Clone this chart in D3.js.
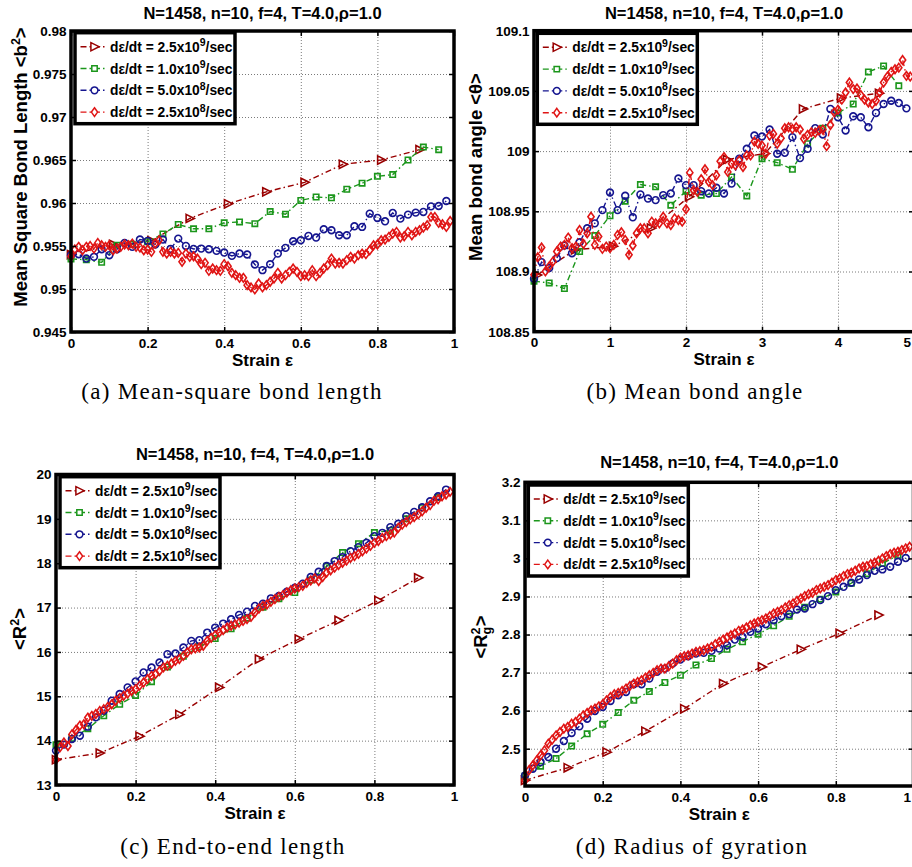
<!DOCTYPE html>
<html><head><meta charset="utf-8">
<script src="https://cdn.jsdelivr.net/npm/d3@7"></script>
<style>
body{margin:0;background:#fff;overflow:hidden}
svg{display:block}
text{font-family:"Liberation Sans",Arial,Helvetica,sans-serif;font-weight:bold;fill:#000}
.cap{font-family:"Liberation Serif","Times New Roman",serif;font-weight:normal}
</style>
</head><body><script>
// ---------------- DATA ----------------
const titleText = "N=1458, n=10, f=4, T=4.0,\u03c1=1.0";
const xLabelText = "Strain \u03b5";
const legendRates = ["2.5", "1.0", "5.0", "2.5"];
const legendExps = ["9", "9", "8", "8"];

// strain samples (panels a, c, d)
const strainTri = [0,0.11,0.21,0.31,0.41,0.51,0.61,0.71,0.81,0.91];
const strain04 = [0,0.04,0.08,0.12,0.16,0.2,0.24,0.28,0.32,0.36,0.4,0.44,0.48,0.52,0.56,0.6,0.64,0.68,0.72,0.76,0.8,0.84,0.88,0.92,0.96];
const strain02 = [0,0.02,0.04,0.06,0.08,0.1,0.12,0.14,0.16,0.18,0.2,0.22,0.24,0.26,0.28,0.3,0.32,0.34,0.36,0.38,0.4,0.42,0.44,0.46,0.48,0.5,0.52,0.54,0.56,0.58,0.6,0.62,0.64,0.66,0.68,0.7,0.72,0.74,0.76,0.78,0.8,0.82,0.84,0.86,0.88,0.9,0.92,0.94,0.96,0.98];
const strain01 = [0,0.01,0.02,0.03,0.04,0.05,0.06,0.07,0.08,0.09,0.1,0.11,0.12,0.13,0.14,0.15,0.16,0.17,0.18,0.19,0.2,0.21,0.22,0.23,0.24,0.25,0.26,0.27,0.28,0.29,0.3,0.31,0.32,0.33,0.34,0.35,0.36,0.37,0.38,0.39,0.4,0.41,0.42,0.43,0.44,0.45,0.46,0.47,0.48,0.49,0.5,0.51,0.52,0.53,0.54,0.55,0.56,0.57,0.58,0.59,0.6,0.61,0.62,0.63,0.64,0.65,0.66,0.67,0.68,0.69,0.7,0.71,0.72,0.73,0.74,0.75,0.76,0.77,0.78,0.79,0.8,0.81,0.82,0.83,0.84,0.85,0.86,0.87,0.88,0.89,0.9,0.91,0.92,0.93,0.94,0.95,0.96,0.97,0.98,0.99];
// strain samples (panel b)
const strainBTri = [0.04,0.54,1.04,1.54,2.04,2.54,3.04,3.54,4.04,4.54];
const strainB2 = [0,0.2,0.4,0.6,0.8,1,1.2,1.4,1.6,1.8,2,2.2,2.4,2.6,2.8,3,3.2,3.4,3.6,3.8,4,4.2,4.4,4.6,4.8];
const strainB1 = [0,0.1,0.2,0.3,0.4,0.5,0.6,0.7,0.8,0.9,1,1.1,1.2,1.3,1.4,1.5,1.6,1.7,1.8,1.9,2,2.1,2.2,2.3,2.4,2.5,2.6,2.7,2.8,2.9,3,3.1,3.2,3.3,3.4,3.5,3.6,3.7,3.8,3.9,4,4.1,4.2,4.3,4.4,4.5,4.6,4.7,4.8,4.9];
const strainB05 = [0,0.05,0.1,0.15,0.2,0.25,0.3,0.35,0.4,0.45,0.5,0.55,0.6,0.65,0.7,0.75,0.8,0.85,0.9,0.95,1,1.05,1.1,1.15,1.2,1.25,1.3,1.35,1.4,1.45,1.5,1.55,1.6,1.65,1.7,1.75,1.8,1.85,1.9,1.95,2,2.05,2.1,2.15,2.2,2.25,2.3,2.35,2.4,2.45,2.5,2.55,2.6,2.65,2.7,2.75,2.8,2.85,2.9,2.95,3,3.05,3.1,3.15,3.2,3.25,3.3,3.35,3.4,3.45,3.5,3.55,3.6,3.65,3.7,3.75,3.8,3.85,3.9,3.95,4,4.05,4.1,4.15,4.2,4.25,4.3,4.35,4.4,4.45,4.5,4.55,4.6,4.65,4.7,4.75,4.8,4.85,4.9,4.95];

// (a) mean-square bond length
const bondA1 = [0.9540,0.9552,0.9556,0.9582,0.9599,0.9613,0.9624,0.9645,0.9650,0.9662];
const bondA2 = [0.9535,0.9534,0.9531,0.9551,0.9552,0.9555,0.9564,0.9575,0.9570,0.9570,0.9577,0.9578,0.9576,0.9590,0.9587,0.9603,0.9607,0.9606,0.9616,0.9623,0.9631,0.9633,0.9650,0.9665,0.9662];
const bondA3 = [0.95393,0.95404,0.95354,0.95374,0.95462,0.95393,0.95462,0.95536,0.95490,0.95575,0.95559,0.95517,0.95575,0.95466,0.95586,0.95501,0.95466,0.95470,0.95462,0.95443,0.95424,0.95385,0.95412,0.95401,0.95285,0.95219,0.95288,0.95412,0.95478,0.95555,0.95567,0.95617,0.95598,0.95695,0.95683,0.95625,0.95625,0.95729,0.95722,0.95876,0.95826,0.95787,0.95884,0.95818,0.95865,0.95888,0.95896,0.95961,0.95965,0.96023];
const bondA4 = [0.95381,0.95459,0.95490,0.95451,0.95490,0.95501,0.95470,0.95536,0.95509,0.95490,
0.95509,0.95451,0.95470,0.95490,0.95517,0.95509,0.95528,0.95490,0.95482,0.95451,
0.95459,0.95432,0.95528,0.95567,0.95432,0.95412,0.95432,0.95412,0.95420,0.95316,
0.95412,0.95374,0.95381,0.95354,0.95289,0.95304,0.95211,0.95238,0.95219,0.95211,
0.95289,0.95265,0.95188,0.95161,0.95130,0.95130,0.95045,0.95018,0.94995,0.95064,
0.95018,0.95045,0.95084,0.95122,0.95188,0.95122,0.95161,0.95200,0.95238,0.95200,
0.95149,0.95161,0.95149,0.95219,0.95149,0.95188,0.95238,0.95277,0.95354,0.95296,
0.95304,0.95296,0.95335,0.95374,0.95354,0.95393,0.95412,0.95405,0.95451,0.95509,
0.95517,0.95567,0.95575,0.95606,0.95644,0.95664,0.95598,0.95613,0.95664,0.95625,
0.95664,0.95683,0.95714,0.95741,0.95838,0.95838,0.95768,0.95753,0.95722,0.95791];

// (b) mean bond angle
const angB1 = [108.897,108.918,108.921,108.936,108.962,108.993,108.998,109.035,109.044,109.048];
const angB2 = [108.892,108.8905,108.8858,108.9166,108.9298,108.9463,108.9584,108.9722,108.9703,108.9551,108.9667,108.9634,108.9648,108.9785,108.9628,108.9937,108.9904,108.9849,109.0061,109.019,109.0316,109.0391,109.0658,109.0707,109.0542];
const angB3 = [108.8940,108.9078,108.9029,108.9111,108.9216,108.9152,108.9243,108.9359,108.9400,108.9510,
108.9656,108.9510,108.9629,108.9450,108.9640,108.9606,108.9593,108.9634,108.9648,108.9772,
108.9717,108.9717,108.9667,108.9648,108.9695,108.9648,108.9730,108.9937,109.0019,109.0129,
109.0121,109.0179,108.9978,108.9986,109.0116,108.9942,109.0019,109.0190,109.0138,109.0350,
109.0281,109.0171,109.0289,109.0281,109.0198,109.0317,109.0391,109.0418,109.0399,109.0355];
const angB4 = [108.8973,108.9119,108.9199,108.9001,108.9042,108.9084,108.9166,108.9207,108.9221,108.9282,
108.9194,108.9207,108.9345,108.9229,108.9318,108.9455,108.9221,108.9290,108.9188,108.9207,
108.9194,108.9221,108.9304,108.9326,108.9262,108.9139,108.9216,108.9318,108.9359,108.9359,
108.9318,108.9414,108.9400,108.9400,108.9455,108.9400,108.9386,108.9441,108.9428,108.9414,
108.9518,108.9821,108.9675,108.9662,108.9766,108.9849,108.9744,108.9717,108.9799,108.9915,
108.9950,108.9827,108.9895,108.9882,108.9923,108.9868,108.9964,108.9964,109.0080,109.0061,
109.0047,108.9978,109.0129,109.0143,109.0061,109.0107,109.0190,109.0198,109.0184,109.0198,
109.0179,109.0102,109.0135,109.0157,109.0151,109.0171,109.0179,109.0041,109.0217,109.0322,
109.0344,109.0427,109.0487,109.0570,109.0515,109.0520,109.0465,109.0427,109.0404,109.0391,
109.0418,109.0487,109.0570,109.0619,109.0658,109.0680,109.0693,109.0757,109.0625,109.0619];

// (c) end-to-end length <R^2>
const ree1 = [13.57,13.72,14.10,14.59,15.20,15.84,16.29,16.71,17.16,17.67];
const ree2 = [13.91,14.05,14.27,14.56,14.82,15.02,15.33,15.66,15.90,16.12,16.30,16.52,16.76,17.01,17.20,17.34,17.62,17.93,18.24,18.44,18.69,18.74,19.00,19.25,19.48];
const ree3 = [13.775,13.910,14.038,14.112,14.315,14.525,14.675,14.900,15.050,15.199,
15.334,15.537,15.649,15.762,15.949,15.964,16.099,16.249,16.264,16.436,
16.549,16.639,16.736,16.834,16.909,17.036,17.088,17.208,17.261,17.358,
17.448,17.538,17.688,17.808,17.936,18.048,18.138,18.273,18.363,18.460,
18.610,18.685,18.813,18.888,19.060,19.157,19.262,19.397,19.510,19.660];
const ree4 = [13.57,13.85,13.96,13.88,14.14,14.24,14.34,14.37,14.52,14.56,
14.60,14.67,14.71,14.76,14.82,14.90,14.96,15.01,15.06,15.12,
15.16,15.24,15.31,15.39,15.46,15.50,15.57,15.65,15.69,15.74,
15.80,15.84,15.91,15.99,16.06,16.08,16.10,16.14,16.25,16.32,
16.38,16.44,16.49,16.55,16.59,16.62,16.66,16.70,16.74,16.79,
16.89,16.98,17.04,17.07,17.13,17.19,17.24,17.28,17.34,17.39,
17.43,17.46,17.49,17.56,17.61,17.66,17.60,17.69,17.79,17.84,
17.90,17.96,18.01,18.06,18.12,18.16,18.21,18.27,18.33,18.39,
18.46,18.50,18.57,18.61,18.65,18.69,18.80,18.87,18.93,18.99,
19.04,19.10,19.17,19.25,19.31,19.41,19.44,19.51,19.55,19.61];

// (d) radius of gyration <Rg^2>
const rg1 = [2.417,2.450,2.491,2.546,2.605,2.671,2.715,2.761,2.803,2.851];
const rg2 = [2.428,2.454,2.474,2.507,2.539,2.564,2.595,2.627,2.650,2.674,2.693,2.720,2.737,2.761,2.781,2.801,2.823,2.848,2.872,2.893,2.912,2.935,2.960,2.987,3.008];
const rg3 = [2.4298,2.4474,2.4649,2.4781,2.5000,2.5202,2.5412,2.5588,2.5789,2.5991,
2.6096,2.6254,2.6404,2.6491,2.6693,2.6693,2.6842,2.7018,2.7105,2.7237,
2.7342,2.7430,2.7500,2.7518,2.7570,2.7632,2.7719,2.7868,2.7939,2.8070,
2.8158,2.8272,2.8377,2.8482,2.8535,2.8658,2.8684,2.8798,2.8904,2.9009,
2.9167,2.9254,2.9360,2.9447,2.9561,2.9675,2.9711,2.9781,2.9912,3.0010];
const rg4 = [2.4167,2.4430,2.4561,2.4693,2.4825,2.4956,2.5132,2.5237,2.5351,2.5439,
2.5526,2.5570,2.5658,2.5702,2.5789,2.5877,2.5939,2.6009,2.6053,2.6114,
2.6167,2.6272,2.6360,2.6430,2.6465,2.6518,2.6579,2.6649,2.6711,2.6754,
2.6798,2.6868,2.6930,2.6991,2.7061,2.7105,2.7105,2.7167,2.7237,2.7325,
2.7395,2.7430,2.7456,2.7500,2.7544,2.7561,2.7588,2.7632,2.7675,2.7746,
2.7807,2.7868,2.7921,2.7982,2.8026,2.8096,2.8132,2.8184,2.8246,2.8289,
2.8333,2.8377,2.8421,2.8482,2.8553,2.8596,2.8640,2.8711,2.8772,2.8816,
2.8886,2.8947,2.9009,2.9061,2.9096,2.9167,2.9211,2.9254,2.9298,2.9360,
2.9430,2.9474,2.9535,2.9588,2.9623,2.9675,2.9737,2.9781,2.9798,2.9851,
2.9886,2.9939,3.0000,3.0061,3.0114,3.0149,3.0175,3.0219,3.0263,3.0307];

// ticks
const ticksX01 = [0,0.2,0.4,0.6,0.8,1];
const labelsX01 = ["0","0.2","0.4","0.6","0.8","1"];
const ticksX05 = [0,1,2,3,4,5];
const labelsX05 = ["0","1","2","3","4","5"];
const ticksYA = [0.945,0.95,0.955,0.96,0.965,0.97,0.975,0.98];
const labelsYA = ["0.945","0.95","0.955","0.96","0.965","0.97","0.975","0.98"];
const ticksYB = [108.85,108.9,108.95,109,109.05,109.1];
const labelsYB = ["108.85","108.9","108.95","109","109.05","109.1"];
const ticksYC = [13,14,15,16,17,18,19,20];
const labelsYC = ["13","14","15","16","17","18","19","20"];
const ticksYD = [2.5,2.6,2.7,2.8,2.9,3,3.1,3.2];
const labelsYD = ["2.5","2.6","2.7","2.8","2.9","3","3.1","3.2"];

// ---------------- STYLE ----------------
const colors = ["#990000", "#1b961b", "#15158f", "#e01515"];
const dashPattern = "6,3,1.5,3";
const markerPaths = [
  "M-3.6,-4.1L4.6,0L-3.6,4.1Z",
  "M-2.7,-2.7H2.7V2.7H-2.7Z",
  "M3.4,0A3.4,3.4 0 1,1 -3.4,0A3.4,3.4 0 1,1 3.4,0Z",
  "M0,-4.3L3.1,0L0,4.3L-3.1,0Z"
];

const W = 912, H = 867;
const svg = d3.select("body").append("svg").attr("width", W).attr("height", H);

function rich(textSel, parts, base, small) {
  let cur = 0;
  parts.forEach(p => {
    const target = p.k === "sup" ? -p.s : p.k === "sub" ? p.s : 0;
    const ts = textSel.append("tspan").text(p.t)
      .attr("dy", target - cur)
      .attr("font-size", p.k === "n" ? base : small);
    if (p.dx) ts.attr("dx", p.dx);
    cur = target;
  });
}

function drawPanel(P) {
  const x = d3.scaleLinear().domain(P.xDomain).range([P.left, P.right]);
  const y = d3.scaleLinear().domain(P.yDomain).range([P.bottom, P.top]);
  const g = svg.append("g");
  const ph = P.bottom - P.top, pw = P.right - P.left;

  // grid
  const gx = g.append("g").attr("transform", `translate(0,${P.bottom})`)
    .call(d3.axisBottom(x).tickValues(P.xTicks.filter(t => t > P.xDomain[0] && t < P.xDomain[1])).tickSize(-ph).tickFormat(""));
  const gy = g.append("g").attr("transform", `translate(${P.left},0)`)
    .call(d3.axisLeft(y).tickValues(P.yTicks.filter(t => t > P.yDomain[0] && t < P.yDomain[1])).tickSize(-pw).tickFormat(""));
  [gx, gy].forEach(a => {
    a.select(".domain").remove();
    a.selectAll("line").attr("stroke", "#7a7a7a").attr("stroke-width", 1).attr("stroke-dasharray", "1,2");
  });

  // data
  P.series.forEach((s, i) => {
    const pts = s.x.map((xv, k) => [x(xv), y(s.y[k])]);
    g.append("path").attr("d", d3.line()(pts)).attr("fill", "none")
      .attr("stroke", colors[i]).attr("stroke-width", 1.4).attr("stroke-dasharray", dashPattern);
    g.append("g").selectAll("path").data(pts).enter().append("path")
      .attr("transform", d => `translate(${d[0]},${d[1]})`)
      .attr("d", markerPaths[i]).attr("fill", "none")
      .attr("stroke", colors[i]).attr("stroke-width", 1.6);
  });

  // axes (ticks inward)
  const fs = 13.5;
  const ab = g.append("g").attr("transform", `translate(0,${P.bottom})`)
    .call(d3.axisBottom(x).tickValues(P.xTicks).tickSize(-5).tickSizeOuter(0).tickPadding(6).tickFormat((d, i) => P.xLabels[i]));
  const at = g.append("g").attr("transform", `translate(0,${P.top})`)
    .call(d3.axisTop(x).tickValues(P.xTicks).tickSize(-5).tickSizeOuter(0).tickFormat(""));
  const al = g.append("g").attr("transform", `translate(${P.left},0)`)
    .call(d3.axisLeft(y).tickValues(P.yTicks).tickSize(-5).tickSizeOuter(0).tickPadding(4.5).tickFormat((d, i) => P.yLabels[i]));
  const ar = g.append("g").attr("transform", `translate(${P.right},0)`)
    .call(d3.axisRight(y).tickValues(P.yTicks).tickSize(-5).tickSizeOuter(0).tickFormat(""));
  [ab, at, al, ar].forEach(a => {
    a.select(".domain").remove();
    a.attr("font-family", null).attr("font-size", null);
    a.selectAll("line").attr("stroke", "#000").attr("stroke-width", 1.5);
    a.selectAll("text").attr("font-size", fs).attr("fill", "#000");
  });
  // keep x tick labels inside the page
  ab.selectAll(".tick text").each(function() {
    const bb = this.getBBox();
    const tx = +d3.select(this.parentNode).attr("transform").match(/translate\(([-\d.]+)/)[1];
    if (tx + bb.x + bb.width > W - 1) d3.select(this).attr("text-anchor", "end").attr("x", W - 1 - tx);
  });

  // frame
  g.append("rect").attr("x", P.left).attr("y", P.top).attr("width", pw).attr("height", ph)
    .attr("fill", "none").attr("stroke", "#000").attr("stroke-width", 3.5);

  // title
  g.append("text").attr("x", (P.left + P.right) / 2).attr("y", P.titleY)
    .attr("text-anchor", "middle").attr("font-size", 16.5).text(titleText);
  // x label
  g.append("text").attr("x", (P.left + P.right) / 2).attr("y", P.bottom + 33.5)
    .attr("text-anchor", "middle").attr("font-size", 17).text(xLabelText);
  // y label
  const yl = g.append("text").attr("text-anchor", "middle")
    .attr("transform", `translate(${P.yLabelX},${P.yLabelY}) rotate(-90)`);
  rich(yl, P.yLabelParts, 18.5, 12.5);

  // caption
  g.append("text").attr("class", "cap").attr("x", P.capX).attr("y", P.capY)
    .attr("text-anchor", "middle").attr("font-size", 23).attr("letter-spacing", 1.3).text(P.caption);

  // legend
  const lx = P.legX, ly = P.legY, lw = 160, lh = 91;
  const lg = g.append("g");
  lg.append("rect").attr("x", lx).attr("y", ly).attr("width", lw).attr("height", lh)
    .attr("fill", "#fff").attr("stroke", "#000").attr("stroke-width", 3.5);
  legendRates.forEach((r, i) => {
    const cy = ly + 14 + i * 21.8;
    lg.append("line").attr("x1", lx + 5.5).attr("x2", lx + 30).attr("y1", cy).attr("y2", cy)
      .attr("stroke", colors[i]).attr("stroke-width", 1.4).attr("stroke-dasharray", dashPattern);
    lg.append("path").attr("transform", `translate(${lx + 19.5},${cy})`).attr("d", markerPaths[i])
      .attr("fill", "#fff").attr("stroke", colors[i]).attr("stroke-width", 1.5);
    const t = lg.append("text").attr("x", lx + 35).attr("y", cy + 5).attr("font-size", 13.8);
    rich(t, [{t: "d\u03b5/dt = " + r + "x10", k: "n"}, {t: legendExps[i], k: "sup", s: 5.5}, {t: "/sec", k: "n"}], 13.8, 10.5);
  });
}

const yLabA = [{t: "Mean Square Bond Length <b", k: "n"}, {t: "2", k: "sup", s: 7}, {t: ">", k: "n"}];
const yLabB = [{t: "Mean bond angle <\u03b8>", k: "n"}];
const yLabC = [{t: "<R", k: "n"}, {t: "2", k: "sup", s: 7}, {t: ">", k: "n"}];
const yLabD = [{t: "<R", k: "n"}, {t: "2", k: "sup", s: 7}, {t: "g", k: "sub", s: 4, dx: -7}, {t: ">", k: "n", dx: 0.5}];

drawPanel({
  left: 71, right: 454, top: 31, bottom: 332,
  xDomain: [0, 1], yDomain: [0.945, 0.98],
  xTicks: ticksX01, xLabels: labelsX01, yTicks: ticksYA, yLabels: labelsYA,
  titleY: 18.5, yLabelX: 27, yLabelY: 167, yLabelParts: yLabA,
  caption: "(a) Mean-square bond length", capX: 232, capY: 399,
  legX: 75, legY: 32.7,
  series: [{x: strainTri, y: bondA1}, {x: strain04, y: bondA2}, {x: strain02, y: bondA3}, {x: strain01, y: bondA4}]
});
drawPanel({
  left: 534, right: 914, top: 30.7, bottom: 331.7,
  xDomain: [0, 5], yDomain: [108.85, 109.1],
  xTicks: ticksX05, xLabels: labelsX05, yTicks: ticksYB, yLabels: labelsYB,
  titleY: 18.5, yLabelX: 482, yLabelY: 167, yLabelParts: yLabB,
  caption: "(b) Mean bond angle", capX: 695, capY: 399,
  legX: 537.3, legY: 33.3,
  series: [{x: strainBTri, y: angB1}, {x: strainB2, y: angB2}, {x: strainB1, y: angB3}, {x: strainB05, y: angB4}]
});
drawPanel({
  left: 56, right: 454, top: 474.5, bottom: 785,
  xDomain: [0, 1], yDomain: [13, 20],
  xTicks: ticksX01, xLabels: labelsX01, yTicks: ticksYC, yLabels: labelsYC,
  titleY: 460, yLabelX: 26, yLabelY: 629, yLabelParts: yLabC,
  caption: "(c) End-to-end length", capX: 233, capY: 854,
  legX: 60, legY: 476.7,
  series: [{x: strainTri, y: ree1}, {x: strain04, y: ree2}, {x: strain02, y: ree3}, {x: strain01, y: ree4}]
});
drawPanel({
  left: 525, right: 913.5, top: 482.3, bottom: 786,
  xDomain: [0, 1], yDomain: [2.402, 3.2],
  xTicks: ticksX01, xLabels: labelsX01, yTicks: ticksYD, yLabels: labelsYD,
  titleY: 468, yLabelX: 487, yLabelY: 637, yLabelParts: yLabD,
  caption: "(d) Radius of gyration", capX: 692, capY: 854,
  legX: 528.3, legY: 485,
  series: [{x: strainTri, y: rg1}, {x: strain04, y: rg2}, {x: strain02, y: rg3}, {x: strain01, y: rg4}]
});
</script></body></html>
